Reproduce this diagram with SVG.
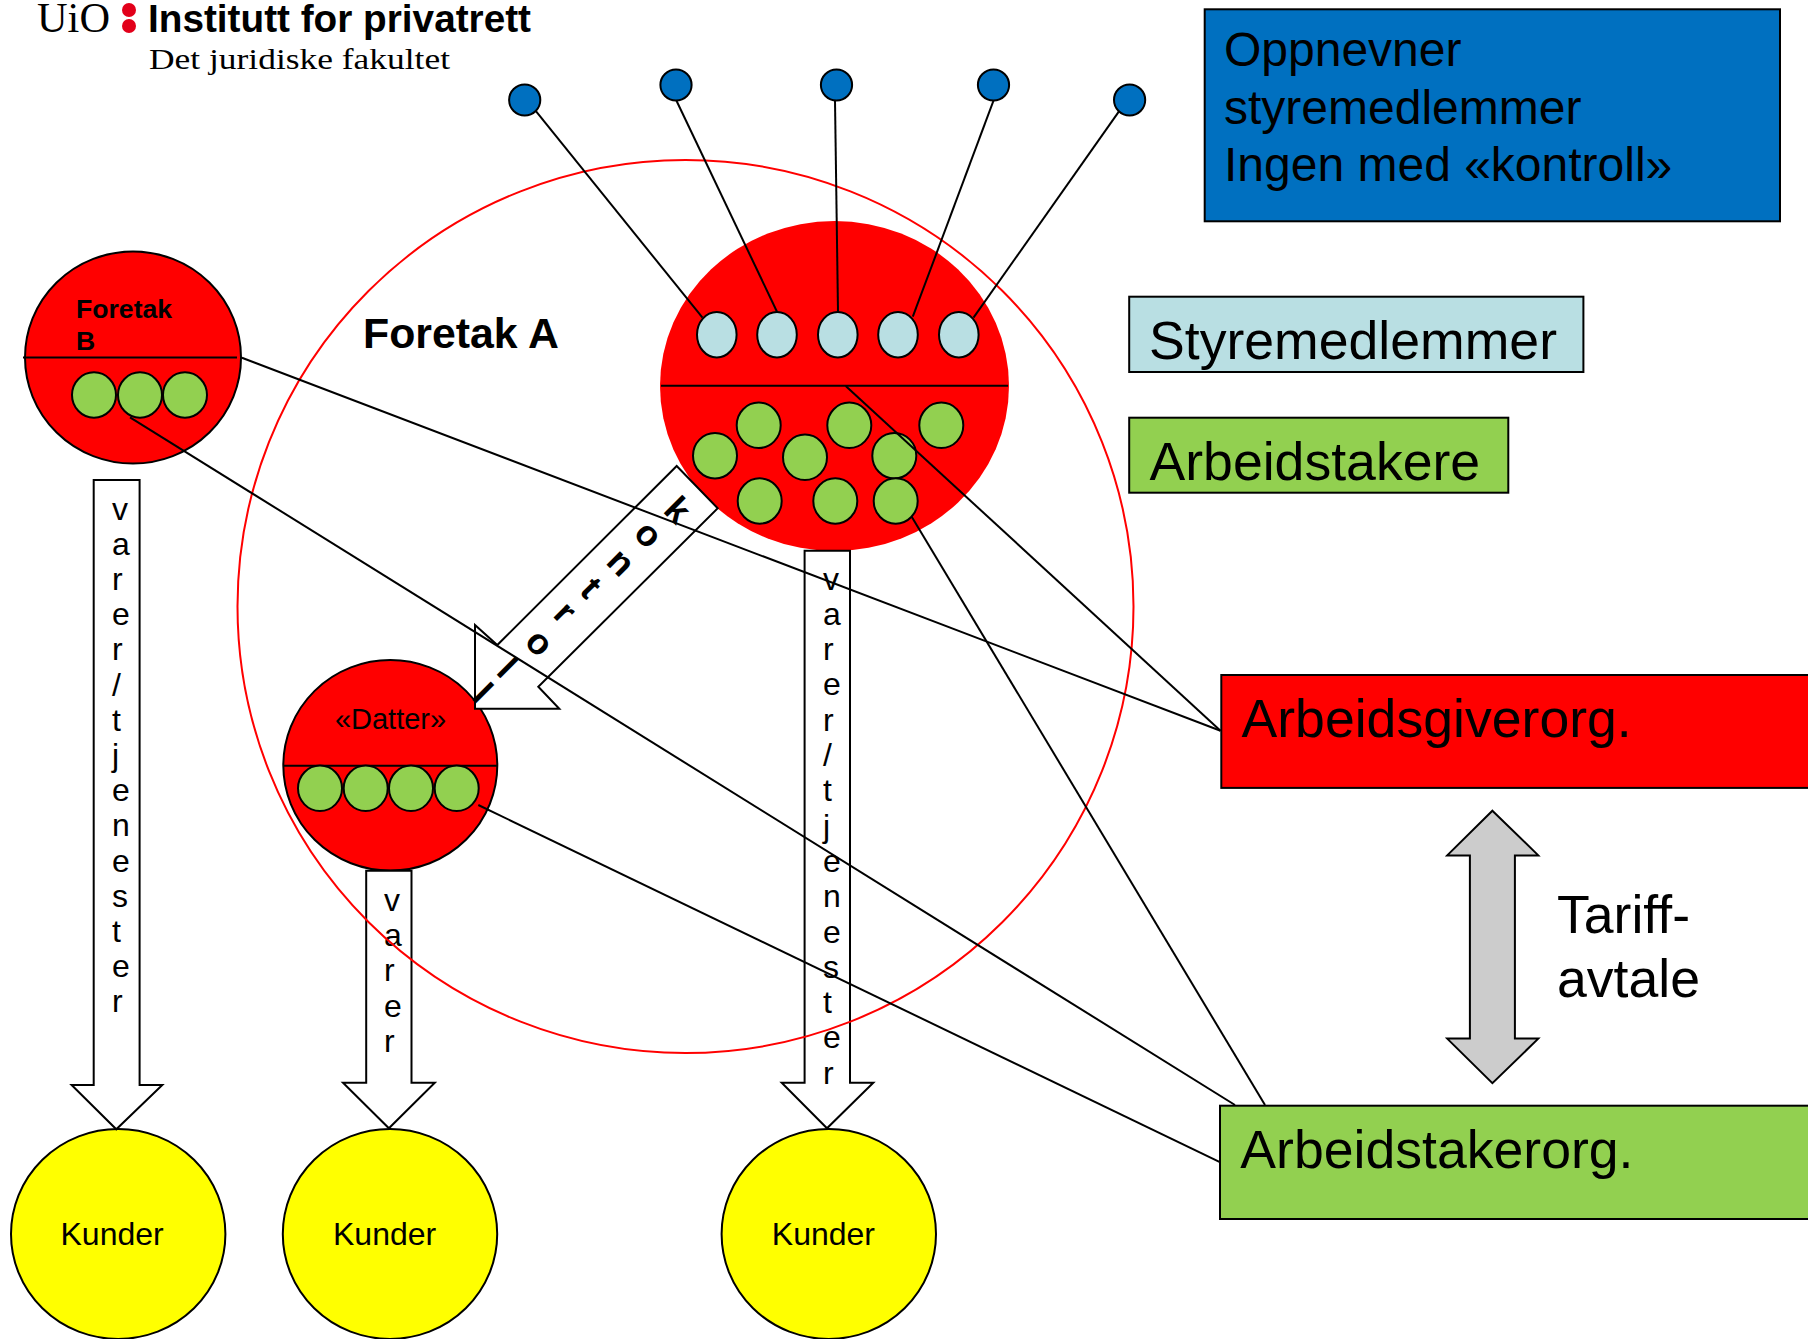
<svg xmlns="http://www.w3.org/2000/svg" width="1808" height="1339" viewBox="0 0 1808 1339">
<style>
text{font-family:"Liberation Sans",Arial,sans-serif;fill:#000}
.s{stroke:#000;stroke-width:2}
.red{fill:#f00}.grn{fill:#92d050}.blu{fill:#0070c0}.lbl{fill:#b9dfe3}.yel{fill:#ff0}.wht{fill:#fff}
.emp{fill:#92d050;stroke:#000;stroke-width:2}
.big{font-size:53.6px}.mid{font-size:48px}.ltr{font-size:32px}
.kon{font-size:36px;font-weight:bold;text-anchor:middle}
.ln{stroke:#000;stroke-width:2;fill:none}
</style>
<rect width="1808" height="1339" fill="#fff"/>
<g id="logo">
<text x="37" y="32" textLength="73" lengthAdjust="spacingAndGlyphs" style="font-family:'Liberation Serif',serif;font-size:42px">UiO</text>
<ellipse cx="129" cy="10" rx="7" ry="7" fill="#e2001a"/><ellipse cx="129" cy="26" rx="7" ry="7" fill="#e2001a"/>
<text x="148" y="32" textLength="383" lengthAdjust="spacingAndGlyphs" style="font-size:39px;font-weight:bold">Institutt for privatrett</text>
<text x="149" y="69" textLength="301" lengthAdjust="spacingAndGlyphs" style="font-family:'Liberation Serif',serif;font-size:30px">Det juridiske fakultet</text>
</g>
<g id="kunder-1"><ellipse class="yel s" cx="118.2" cy="1234" rx="107.2" ry="105"/><text x="60.5" y="1245" class="ltr">Kunder</text></g>
<g id="kunder-2"><ellipse class="yel s" cx="390" cy="1234" rx="107.2" ry="105"/><text x="333" y="1245" class="ltr">Kunder</text></g>
<g id="kunder-3"><ellipse class="yel s" cx="828.8" cy="1234" rx="107.2" ry="105"/><text x="771.8" y="1245" class="ltr">Kunder</text></g>
<g id="foretak-a-core">
<ellipse class="red" cx="834.5" cy="386" rx="174.5" ry="165"/>
<line class="ln" x1="661" y1="385.7" x2="1008" y2="385.7"/>
<ellipse class="lbl s" cx="716.8" cy="334.7" rx="19.8" ry="22.7"/><ellipse class="lbl s" cx="777" cy="334.7" rx="19.8" ry="22.7"/><ellipse class="lbl s" cx="837.8" cy="334.7" rx="19.8" ry="22.7"/><ellipse class="lbl s" cx="898" cy="334.7" rx="19.8" ry="22.7"/><ellipse class="lbl s" cx="958.8" cy="334.7" rx="19.8" ry="22.7"/>
<ellipse class="emp" cx="715" cy="455.7" rx="22" ry="22.7"/><ellipse class="emp" cx="758.7" cy="425.3" rx="22" ry="22.7"/><ellipse class="emp" cx="805" cy="457.3" rx="22" ry="22.7"/><ellipse class="emp" cx="849.3" cy="425.3" rx="22" ry="22.7"/><ellipse class="emp" cx="894.3" cy="455.7" rx="22" ry="22.7"/><ellipse class="emp" cx="941.3" cy="425.3" rx="22" ry="22.7"/><ellipse class="emp" cx="759.7" cy="501" rx="22" ry="22.7"/><ellipse class="emp" cx="835.3" cy="501" rx="22" ry="22.7"/><ellipse class="emp" cx="895.7" cy="501" rx="22" ry="22.7"/>
</g>
<g id="foretak-b">
<ellipse class="red s" cx="133" cy="357.5" rx="108" ry="106"/>
<line class="ln" x1="23" y1="357.5" x2="237" y2="357.5"/>
<ellipse class="emp" cx="94" cy="395" rx="22" ry="22.7"/><ellipse class="emp" cx="140" cy="395" rx="22" ry="22.7"/><ellipse class="emp" cx="185" cy="395" rx="22" ry="22.7"/>
<text x="76" y="318" style="font-size:26.6px;font-weight:bold">Foretak</text>
<text x="76" y="349.5" style="font-size:26.6px;font-weight:bold">B</text>
</g>
<g id="datter">
<ellipse class="red s" cx="390.3" cy="765.3" rx="107" ry="105.3"/>
<line class="ln" x1="284" y1="765.7" x2="497" y2="765.7"/>
<ellipse class="emp" cx="320" cy="788.3" rx="22" ry="22.7"/><ellipse class="emp" cx="365.7" cy="788.3" rx="22" ry="22.7"/><ellipse class="emp" cx="411" cy="788.3" rx="22" ry="22.7"/><ellipse class="emp" cx="456.7" cy="788.3" rx="22" ry="22.7"/>
<text x="390.5" y="728.5" text-anchor="middle" style="font-size:29px">«Datter»</text>
</g>
<g id="pil-kontroll">
<polygon class="wht s" points="676.7,466 717.7,508.3 538.3,686.7 559.3,708.7 475,708.7 475,625 497.3,645"/>
<text class="kon" transform="translate(678.3,509.3) rotate(45)" y="13">k</text>
<text class="kon" transform="translate(646.7,536) rotate(45)" y="9.5">o</text>
<text class="kon" transform="translate(619.3,564) rotate(45)" y="9.5">n</text>
<text class="kon" transform="translate(591,587.7) rotate(45)" y="12">t</text>
<text class="kon" transform="translate(563.3,614) rotate(45)" y="9.5">r</text>
<text class="kon" transform="translate(537.7,644.3) rotate(45)" y="9.5">o</text>
<text class="kon" transform="translate(507.7,667.3) rotate(45)" y="13">l</text>
<text class="kon" transform="translate(483.3,692.7) rotate(45)" y="13">l</text>
</g>
<g id="pil-varer-1">
<polygon class="wht s" points="93.7,480 139.6,480 139.6,1085 162.3,1085 116.3,1129.3 71.6,1085 93.7,1085"/>
<text class="ltr" x="112" y="519.5">v</text><text class="ltr" x="112" y="554.7">a</text><text class="ltr" x="112" y="589.9">r</text><text class="ltr" x="112" y="625.1">e</text><text class="ltr" x="112" y="660.3">r</text><text class="ltr" x="112" y="695.5">/</text><text class="ltr" x="112" y="730.7">t</text><text class="ltr" x="112" y="765.9">j</text><text class="ltr" x="112" y="801.1">e</text><text class="ltr" x="112" y="836.3">n</text><text class="ltr" x="112" y="871.5">e</text><text class="ltr" x="112" y="906.7">s</text><text class="ltr" x="112" y="941.9">t</text><text class="ltr" x="112" y="977.1">e</text><text class="ltr" x="112" y="1012.3">r</text>
</g>
<g id="pil-varer-2">
<polygon class="wht s" points="366.2,870.7 411.5,870.7 411.5,1082.7 434.8,1082.7 388.9,1128.3 343,1082.7 366.2,1082.7"/>
<text class="ltr" x="384" y="911">v</text><text class="ltr" x="384" y="946.2">a</text><text class="ltr" x="384" y="981.4">r</text><text class="ltr" x="384" y="1016.6">e</text><text class="ltr" x="384" y="1051.8">r</text>
</g>
<g id="pil-varer-3">
<polygon class="wht s" points="804.6,550.7 850,550.7 850,1082.7 873.3,1082.7 827,1128.3 781.7,1082.7 804.6,1082.7"/>
<text class="ltr" x="823" y="589.5">v</text><text class="ltr" x="823" y="624.8">a</text><text class="ltr" x="823" y="660.1">r</text><text class="ltr" x="823" y="695.4">e</text><text class="ltr" x="823" y="730.7">r</text><text class="ltr" x="823" y="766">/</text><text class="ltr" x="823" y="801.3">t</text><text class="ltr" x="823" y="836.6">j</text><text class="ltr" x="823" y="871.9">e</text><text class="ltr" x="823" y="907.2">n</text><text class="ltr" x="823" y="942.5">e</text><text class="ltr" x="823" y="977.8">s</text><text class="ltr" x="823" y="1013.1">t</text><text class="ltr" x="823" y="1048.4">e</text><text class="ltr" x="823" y="1083.7">r</text>
</g>
<g id="foretak-a">
<ellipse cx="685.5" cy="606.5" rx="448" ry="446.5" fill="none" stroke="#f00" stroke-width="2"/>
<text x="363" y="348" style="font-size:42.8px;font-weight:bold">Foretak A</text>
</g>
<g id="oppnevner">
<rect class="blu s" x="1204.7" y="9.3" width="575.3" height="212"/>
<text class="mid" x="1224" y="66">Oppnevner</text>
<text class="mid" x="1224" y="124.3">styremedlemmer</text>
<text class="mid" x="1224" y="181.3">Ingen med «kontroll»</text>
</g>
<g id="styremedlemmer-legend"><rect class="lbl s" x="1129.2" y="296.7" width="454.2" height="75.3"/><text class="big" x="1149" y="359">Styremedlemmer</text></g>
<g id="arbeidstakere-legend"><rect class="grn s" x="1129.2" y="417.7" width="379.1" height="75"/><text class="big" x="1149.5" y="479.7">Arbeidstakere</text></g>
<g id="arbeidsgiverorg"><rect class="red s" x="1221.3" y="675" width="590" height="112.9"/><text class="big" x="1241.5" y="736.5">Arbeidsgiverorg.</text></g>
<g id="arbeidstakerorg"><rect class="grn s" x="1220" y="1105.7" width="592" height="113.3"/><text class="big" x="1240.3" y="1167.5">Arbeidstakerorg.</text></g>
<g id="tariffavtale">
<polygon fill="#ccc" stroke="#000" stroke-width="2" points="1492.4,810.7 1538.3,855.4 1514.9,855.4 1514.9,1038.6 1538.3,1038.6 1492.4,1083.2 1447.2,1038.6 1469.9,1038.6 1469.9,855.4 1447.2,855.4"/>
<text x="1557" y="932.5" style="font-size:53.6px">Tariff-</text>
<text x="1557" y="996.8" style="font-size:53.6px">avtale</text>
</g>
<g id="styre-noder">
<ellipse class="blu s" cx="524.7" cy="100" rx="15.6" ry="15.5"/><ellipse class="blu s" cx="676" cy="85" rx="15.6" ry="15.5"/><ellipse class="blu s" cx="836.5" cy="85" rx="15.6" ry="15.5"/><ellipse class="blu s" cx="993.5" cy="85" rx="15.6" ry="15.5"/><ellipse class="blu s" cx="1129.6" cy="100" rx="15.6" ry="15.5"/>
</g>
<g id="connectors" class="ln">
<line x1="535.5" y1="110.7" x2="702.5" y2="317.7"/>
<line x1="676.5" y1="100.7" x2="777" y2="311.7"/>
<line x1="835" y1="100.7" x2="838" y2="311.7"/>
<line x1="993.5" y1="100.7" x2="912.8" y2="316.7"/>
<line x1="1118.8" y1="111.7" x2="973.5" y2="317.7"/>
<line x1="845.7" y1="386" x2="1220.5" y2="730.7"/>
<line x1="241.9" y1="357.7" x2="1220.5" y2="730.7"/>
<line x1="911.7" y1="516.7" x2="1265" y2="1105"/>
<line x1="130" y1="417.3" x2="1235" y2="1105"/>
<line x1="478.3" y1="805" x2="1219.4" y2="1161.8"/>
</g>
</svg>
